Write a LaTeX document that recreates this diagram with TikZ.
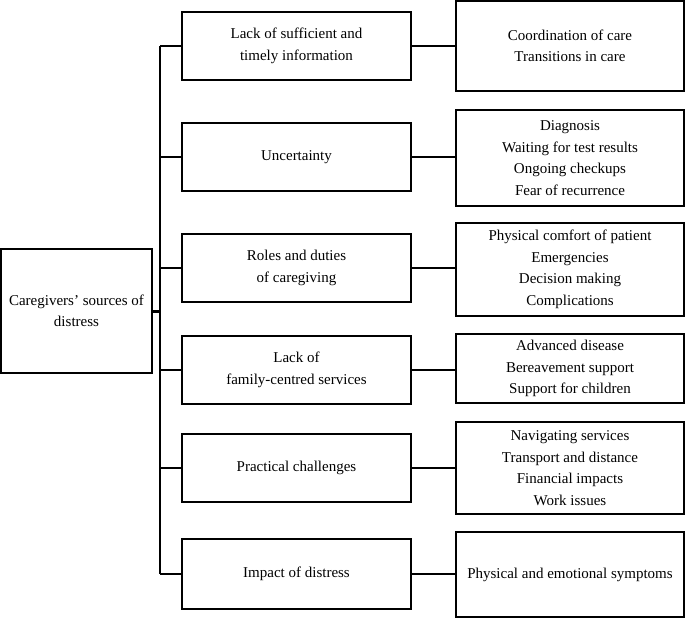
\documentclass[tikz,border=0pt]{standalone}
\usepackage{fontspec}
\setmainfont{Liberation Serif}
\begin{document}
\begin{tikzpicture}[x=1pt,y=-1pt,
  box/.style={draw, line width=1.3pt, rectangle, align=center, inner sep=0pt,
    font=\fontsize{15}{21.5}\selectfont},
  mid/.style={box, minimum width=229pt},
  rgt/.style={box, minimum width=228pt},
  link/.style={line width=1.3pt}]
\useasboundingbox (0,0) rectangle (685,618);
\node[box, minimum width=151pt, minimum height=124pt] (root) at (76.5,311) {Caregivers’ sources of\\distress};
\node[mid, minimum height=68pt] (m1) at (296.5,46) {Lack of sufficient and\\timely information};
\node[mid, minimum height=68pt] (m2) at (296.5,157) {Uncertainty};
\node[mid, minimum height=68pt] (m3) at (296.5,268) {Roles and duties\\of caregiving};
\node[mid, minimum height=68pt] (m4) at (296.5,370) {Lack of\\family-centred services};
\node[mid, minimum height=68pt] (m5) at (296.5,468) {Practical challenges};
\node[mid, minimum height=70pt] (m6) at (296.5,574) {Impact of distress};
\node[rgt, minimum height=90pt] (r1) at (570,46) {Coordination of care\\Transitions in care};
\node[rgt, minimum height=96pt] (r2) at (570,158) {Diagnosis\\Waiting for test results\\Ongoing checkups\\Fear of recurrence};
\node[rgt, minimum height=93pt] (r3) at (570,269.5) {Physical comfort of patient\\Emergencies\\Decision making\\Complications};
\node[rgt, minimum height=69pt] (r4) at (570,368.5) {Advanced disease\\Bereavement support\\Support for children};
\node[rgt, minimum height=92pt] (r5) at (570,468) {Navigating services\\Transport and distance\\Financial impacts\\Work issues};
\node[rgt, minimum height=85pt] (r6) at (570,574.5) {Physical and emotional symptoms};
\coordinate (tt) at (160,0);
\draw[link] (tt |- m1.west) -- (tt |- m6.west);
\draw[line width=3pt] (root.east) -- (root.east -| tt);
\foreach \i in {1,...,6}{
  \draw[link] (tt |- m\i.west) -- (m\i.west);
  \draw[link] (m\i.east) -- (m\i.east -| r\i.west);
}
\end{tikzpicture}
\end{document}
